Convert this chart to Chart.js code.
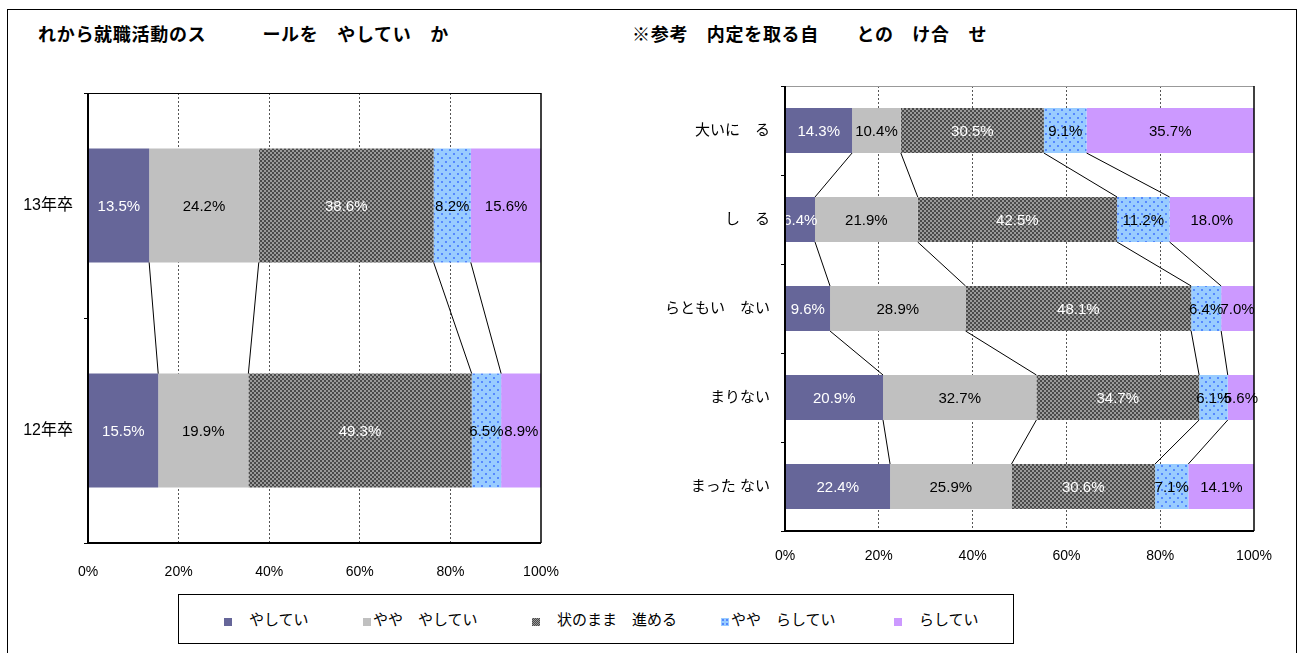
<!DOCTYPE html>
<html>
<head>
<meta charset="utf-8">
<script src="https://cdn.jsdelivr.net/npm/chart.js@4.4.1/dist/chart.umd.min.js"></script>
<style>
body{margin:0;background:#fff;width:1298px;height:653px;overflow:hidden;position:relative;font-family:"Liberation Sans","Noto Sans CJK JP",sans-serif;}
#frame{position:absolute;left:7px;top:9px;width:1290px;height:700px;border:1px solid #000;box-sizing:border-box;}
.title{position:absolute;top:22px;font-weight:bold;font-size:18px;letter-spacing:0.7px;line-height:22px;white-space:pre;font-family:"Noto Sans CJK JP",sans-serif;}
canvas{position:absolute;}
#legend{position:absolute;left:178px;top:594px;width:836px;height:50px;border:1.5px solid #000;box-sizing:border-box;}
.item{position:absolute;top:0;line-height:47px;font-size:15px;white-space:pre;font-family:"Noto Sans CJK JP",sans-serif;}
.mk{display:inline-block;width:8px;height:8px;margin-right:2px;vertical-align:-1px;}
</style>
</head>
<body>
<div id="frame"></div>
<div class="title" style="left:38px">れから就職活動のス　　　ールを　やしてい　か</div>
<div class="title" style="left:632px">※参考　内定を取る自　　との　け合　せ</div>
<canvas id="left" width="560" height="530" style="left:8px;top:60px"></canvas>
<canvas id="right" width="670" height="530" style="left:620px;top:60px"></canvas>
<div id="legend"></div>
<script>
// 系列名
const seriesNames = ['　やしてい', 'やや　やしてい', '　状のまま　進める', 'やや　らしてい', '　らしてい'];

// 左: 卒年別
const leftCats = ['13年卒', '12年卒'];
const leftS1 = [13.5, 15.5];
const leftS2 = [24.2, 19.9];
const leftS3 = [38.6, 49.3];
const leftS4 = [8.2, 6.5];
const leftS5 = [15.6, 8.9];

// 右: 自信の有無別
const rightCats = ['大いに　る', 'し　る', 'らともい　ない', 'まりない', 'まった ない'];
const rightS1 = [14.3, 6.4, 9.6, 20.9, 22.4];
const rightS2 = [10.4, 21.9, 28.9, 32.7, 25.9];
const rightS3 = [30.5, 42.5, 48.1, 34.7, 30.6];
const rightS4 = [9.1, 11.2, 6.4, 6.1, 7.1];
const rightS5 = [35.7, 18.0, 7.0, 5.6, 14.1];

const xTickStep = 20;

const labelColors = ['#fff', '#000', '#fff', '#000', '#000'];

function checker(ctx) {
    const c = document.createElement('canvas');
    c.width = c.height = 4;
    const g = c.getContext('2d');
    g.fillStyle = '#9a9a9a'; g.fillRect(0, 0, 4, 4);
    g.fillStyle = '#4a4a4a'; g.fillRect(0, 0, 2, 2); g.fillRect(2, 2, 2, 2);
    return ctx.createPattern(c, 'repeat');
}
function dots(ctx) {
    const c = document.createElement('canvas');
    c.width = c.height = 8;
    const g = c.getContext('2d');
    g.fillStyle = '#99ccff'; g.fillRect(0, 0, 8, 8);
    g.fillStyle = '#5588ff'; g.fillRect(1, 1, 2, 2); g.fillRect(5, 5, 2, 2);
    return ctx.createPattern(c, 'repeat');
}

// 系列線 + データラベル + 枠
const extras = {
    id: 'extras',
    afterDatasetsDraw(chart, args, opts) {
        const ctx = chart.ctx, a = chart.chartArea;
        const metas = chart.data.datasets.map((d, i) => chart.getDatasetMeta(i));
        ctx.save();
        ctx.strokeStyle = '#000';
        ctx.lineWidth = 1;
        for (let s = 0; s < metas.length - 1; s++) {
            const els = metas[s].data;
            for (let k = 0; k < els.length - 1; k++) {
                const p = els[k], q = els[k + 1];
                ctx.beginPath();
                ctx.moveTo(p.x, p.y + p.height / 2);
                ctx.lineTo(q.x, q.y - q.height / 2);
                ctx.stroke();
            }
        }
        ctx.font = '15px "Liberation Sans", sans-serif';
        ctx.textAlign = 'center';
        ctx.textBaseline = 'middle';
        metas.forEach((m, s) => {
            ctx.fillStyle = labelColors[s];
            m.data.forEach((el, k) => {
                const v = chart.data.datasets[s].data[k];
                ctx.fillText(v.toFixed(1) + '%', (el.x + el.base) / 2, el.y + 1);
            });
        });
        // 枠
        ctx.lineWidth = 1;
        ctx.strokeStyle = opts.topColor;
        ctx.beginPath(); ctx.moveTo(a.left, a.top + 0.5); ctx.lineTo(a.right, a.top + 0.5); ctx.stroke();
        ctx.strokeStyle = '#000';
        ctx.lineWidth = 1.5;
        ctx.beginPath(); ctx.moveTo(a.right, a.top); ctx.lineTo(a.right, a.bottom); ctx.stroke();
        ctx.lineWidth = 2;
        ctx.beginPath(); ctx.moveTo(a.left, a.top); ctx.lineTo(a.left, a.bottom); ctx.lineTo(a.right, a.bottom); ctx.stroke();
        ctx.restore();
    }
};

function makeChart(id, cats, values, cfg) {
    const canvas = document.getElementById(id);
    const ctx = canvas.getContext('2d');
    const fills = ['#666699', '#c0c0c0', checker(ctx), dots(ctx), '#cc99ff'];
    return new Chart(canvas, {
        type: 'bar',
        data: {
            labels: cats,
            datasets: values.map((v, i) => ({
                label: seriesNames[i],
                data: v,
                backgroundColor: fills[i],
                borderWidth: 0,
                barPercentage: 0.506,
                categoryPercentage: 1
            }))
        },
        options: {
            indexAxis: 'y',
            responsive: false,
            animation: false,
            layout: { padding: cfg.padding },
            plugins: {
                legend: { display: false },
                tooltip: { enabled: false },
                extras: { topColor: cfg.topColor }
            },
            scales: {
                x: {
                    stacked: true, min: 0, max: 100,
                    ticks: { stepSize: xTickStep, callback: v => v + '%', padding: cfg.xPad, color: '#000', font: { size: 14 } },
                    grid: {
                        drawTicks: false,
                        color: c => (c.tick && c.tick.value > 0 && c.tick.value < 100) ? '#555' : 'rgba(0,0,0,0)',
                        lineWidth: 1
                    },
                    border: { display: false, dash: [2, 2] },
                    afterFit: s => { s.height = cfg.xH; s.paddingLeft = 0; s.paddingRight = 0; }
                },
                y: {
                    stacked: true,
                    ticks: { padding: cfg.yPad, color: '#000', font: { size: cfg.yFont, family: '"Liberation Sans", "Noto Sans CJK JP", sans-serif' } },
                    grid: { offset: true, drawOnChartArea: false, tickLength: 4, color: '#000' },
                    border: { display: false },
                    afterFit: s => { s.width = cfg.yW; }
                }
            }
        },
        plugins: [extras]
    });
}

Chart.defaults.font.family = '"Liberation Sans", "Noto Sans CJK JP", sans-serif';

makeChart('left', leftCats, [leftS1, leftS2, leftS3, leftS4, leftS5], {
    padding: { top: 33, right: 27, left: 0, bottom: 0 },
    yW: 80, xH: 47, xPad: 21, yPad: 11, yFont: 16, topColor: '#000'
});
makeChart('right', rightCats, [rightS1, rightS2, rightS3, rightS4, rightS5], {
    padding: { top: 26, right: 36, left: 0, bottom: 0 },
    yW: 165, xH: 59, xPad: 17, yPad: 11, yFont: 15, topColor: '#999'
});

// 凡例
const legendLeft = [45, 184, 353, 542, 715];
const markStyles = [
    'background:#666699',
    'background:#c0c0c0',
    'background:repeating-conic-gradient(#4a4a4a 0 25%, #9a9a9a 0 50%) 0 0/2px 2px',
    'background:#99ccff radial-gradient(#5588ff 30%, transparent 31%) 0 0/4px 4px',
    'background:#cc99ff'
];
const lg = document.getElementById('legend');
seriesNames.forEach((n, i) => {
    const d = document.createElement('div');
    d.className = 'item';
    d.style.left = legendLeft[i] + 'px';
    d.innerHTML = '<span class="mk" style="' + markStyles[i] + '"></span>' + n;
    lg.appendChild(d);
});
</script>
</body>
</html>
